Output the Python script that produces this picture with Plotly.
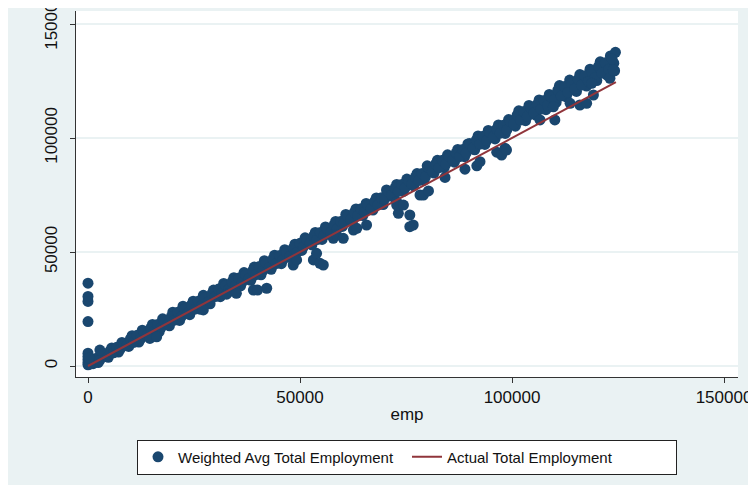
import plotly.graph_objects as go

# Main band of points (emp, weighted average total employment)
band_emp = [
    800, 1600, 2400, 3200, 4000, 4800, 5600, 6400, 7200, 8000, 8800, 9600,
    10400, 11200, 12000, 12800, 13600, 14400, 15200, 16000, 16800, 17600, 18400, 19200,
    20000, 20800, 21600, 22400, 23200, 24000, 24800, 25600, 26400, 27200, 28000, 28800, 29600,
    30400, 31200, 32000, 32800, 33600, 34400, 35200, 36000, 36800, 37600, 38400, 39200,
    40000, 40800, 41600, 42400, 43200, 44000, 44800, 45600, 46400, 47200, 48000, 48800, 49600,
    50400, 51200, 52000, 52800, 53600, 54400, 55200, 56000, 56800, 57600, 58400, 59200,
    60000, 60800, 61600, 62400, 63200, 64000, 64800, 65600, 66400, 67200, 68000, 68800, 69600,
    70400, 71200, 72000, 72800, 73600, 74400, 75200, 76000, 76800, 77600, 78400, 79200,
    80000, 80800, 81600, 82400, 83200, 84000, 84800, 85600, 86400, 87200, 88000, 88800, 89600,
    90400, 91200, 92000, 92800, 93600, 94400, 95200, 96000, 96800, 97600, 98400, 99200,
    100000, 100800, 101600, 102400, 103200, 104000, 104800, 105600, 106400, 107200, 108000, 108800, 109600,
    110400, 111200, 112000, 112800, 113600, 114400, 115200, 116000, 116800, 117600, 118400, 119200,
    120000, 120800, 121600, 122400, 123200, 124000, 124400, 124200,
]
band_weighted = [
    3000, 2300, 1500, 5300, 4700, 3800, 7900, 7000, 6100, 10300, 9400, 8600,
    13300, 11900, 10500, 15700, 14300, 12900, 18200, 16800, 15100, 20700, 19100, 17600,
    23600, 21800, 20000, 26200, 24200, 22500, 28400, 26700, 24900, 31000, 29000, 27300, 33300,
    32100, 30400, 36200, 34500, 32800, 38700, 36900, 35200, 41000, 39300, 37600, 43400,
    41900, 40000, 46200, 44300, 42400, 48600, 46700, 44900, 51000, 49100, 47300, 53400, 51500,
    50700, 56200, 54600, 53100, 58600, 57000, 55500, 61000, 59400, 57900, 63400, 61800,
    61200, 66500, 65000, 63600, 68900, 67400, 66000, 71300, 69800, 68400, 73700, 72200, 70800,
    77200, 75700, 74200, 79600, 78100, 76600, 82000, 80500, 79000, 84400, 82900, 81400,
    87800, 86200, 84600, 90200, 88600, 87000, 92600, 91000, 89400, 95000, 93400, 91800, 97400,
    96600, 94800, 100900, 99000, 97200, 103300, 101400, 99600, 105700, 103800, 102000, 108100,
    107300, 105200, 111900, 109700, 107600, 114300, 112100, 110000, 116700, 114500, 112400, 119100, 116900,
    115600, 123000, 120500, 118000, 125400, 122900, 120400, 127800, 125300, 122800, 130200, 127700,
    125200, 133400, 130600, 127600, 136000, 132800, 137600, 129500,
]

# Further points filling the band between the rows above
fill_emp = [
    400, 1200, 2000, 2800, 3600, 4400, 5200, 6000, 6800, 7600, 8400, 9200,
    10000, 10800, 11600, 12400, 13200, 14000, 14800, 15600, 16400, 17200, 18000, 18800, 19600,
    20400, 21200, 22000, 22800, 23600, 24400, 25200, 26000, 26800, 27600, 28400, 29200,
    30000, 30800, 31600, 32400, 33200, 34000, 34800, 35600, 36400, 37200, 38000, 38800, 39600,
    40400, 41200, 42000, 42800, 43600, 44400, 45200, 46000, 46800, 47600, 48400, 49200,
    50000, 50800, 51600, 52400, 53200, 54000, 54800, 55600, 56400, 57200, 58000, 58800, 59600,
    60400, 61200, 62000, 62800, 63600, 64400, 65200, 66000, 66800, 67600, 68400, 69200,
    70000, 70800, 71600, 72400, 73200, 74000, 74800, 75600, 76400, 77200, 78000, 78800, 79600,
    80400, 81200, 82000, 82800, 83600, 84400, 85200, 86000, 86800, 87600, 88400, 89200,
    90000, 90800, 91600, 92400, 93200, 94000, 94800, 95600, 96400, 97200, 98000, 98800, 99600,
    100400, 101200, 102000, 102800, 103600, 104400, 105200, 106000, 106800, 107600, 108400, 109200,
    110000, 110800, 111600, 112400, 113200, 114000, 114800, 115600, 116400, 117200, 118000, 118800, 119600,
    120400, 121200, 122000, 122800, 123600,
]
fill_weighted = [
    1800, 1000, 3400, 2600, 5000, 4200, 6600, 5800, 8200, 7400, 9800, 9000,
    11850, 10350, 13450, 11950, 15050, 13550, 16650, 15150, 18250, 16750, 19850, 18350, 21450,
    20100, 23550, 21700, 25150, 23300, 26750, 24900, 28350, 26500, 29950, 28100, 31550,
    30450, 33750, 32050, 35350, 33650, 36950, 35250, 38550, 36850, 40150, 38450, 41750, 40050,
    43650, 41750, 45250, 43350, 46850, 44950, 48450, 46550, 50050, 48150, 51650, 49750,
    53800, 52250, 55400, 53850, 57000, 55450, 58600, 57050, 60200, 58650, 61800, 60250, 63400,
    62700, 65750, 64300, 67350, 65900, 68950, 67500, 70550, 69100, 72150, 70700, 73750,
    73350, 76450, 74950, 78050, 76550, 79650, 78150, 81250, 79750, 82850, 81350, 84450, 82950,
    87000, 85400, 88600, 87000, 90200, 88600, 91800, 90200, 93400, 91800, 95000, 93400,
    97550, 95700, 99150, 97300, 100750, 98900, 102350, 100500, 103950, 102100, 105550, 103700, 107150,
    106250, 110000, 107850, 111600, 109450, 113200, 111050, 114800, 112650, 116400, 114250, 118000,
    116850, 120950, 118450, 122550, 120050, 124150, 121650, 125750, 123250, 127350, 124850, 128950, 126450,
    131400, 128500, 133000, 130100, 134600,
]

# Points near zero and points lying below the main band
other_emp = [
    0, 0, 0, 0, 0, 400, 300, 2800, 0, 0, 0, 0,
    14600, 16200, 27200, 32700, 35000, 39000, 40000, 42150, 48400, 49200,
    53150, 53900, 54700, 55500, 57850, 58600, 60200, 62600, 63400, 65700,
    72800, 73200, 72800, 74400, 75900, 76700, 75900, 78300, 79100, 80300,
    84200, 88900, 91700, 92450, 96400, 97550, 98350, 98700, 106600, 109750,
    110100, 113700, 116000, 117600, 118800, 119200, 123100, 123900,
]
other_weighted = [
    500, 1500, 2800, 4200, 5600, 800, 3500, 7000, 19500, 28300, 30500, 36300,
    12100, 12800, 24600, 31500, 31900, 33300, 33300, 34100, 44300, 46500,
    46500, 49400, 45050, 44300, 56000, 57450, 56000, 59650, 60400, 61840,
    72060, 66970, 70600, 70600, 66230, 61840, 61100, 75000, 75000, 76800,
    82700, 86300, 87800, 89600, 93800, 92540, 95500, 94740, 107900, 113700,
    107900, 115200, 114470, 115200, 124000, 118860, 126200, 129800,
]

# Actual total employment reference line
line_emp = [0, 124500]
line_actual = [0, 124500]

x_ticks = [0, 50000, 100000, 150000]
y_ticks = [0, 50000, 100000, 150000]

FONT = "Liberation Sans, Arial, sans-serif"
NAVY = "#1a476f"
MAROON = "#90353b"
BG = "#eaf2f3"

fig = go.Figure()
fig.add_trace(go.Scatter(
    x=band_emp + fill_emp + other_emp,
    y=band_weighted + fill_weighted + other_weighted,
    mode="markers", name="Weighted Avg Total Employment",
    marker=dict(color=NAVY, size=11, line=dict(width=0)),
))
fig.add_trace(go.Scatter(
    x=line_emp, y=line_actual, mode="lines", name="Actual Total Employment",
    line=dict(color=MAROON, width=2),
))

fig.update_layout(
    width=748, height=477,
    margin=dict(l=68, r=18, t=3, b=108, autoexpand=False),
    paper_bgcolor=BG, plot_bgcolor="white",
    font=dict(family=FONT, color="#111", size=17),
    showlegend=True,
    legend=dict(
        orientation="h", x=0.5, xanchor="center", y=-0.171, yanchor="top",
        bgcolor="white", bordercolor="#222", borderwidth=1,
        font=dict(family=FONT, size=15, color="#111"),
        entrywidth=224, entrywidthmode="pixels",
    ),
    xaxis=dict(
        range=[-2830, 153300], tickvals=x_ticks, ticktext=[str(v) for v in x_ticks],
        showgrid=False, zeroline=False, showline=True, linecolor="#333", linewidth=1,
        ticks="outside", ticklen=5, tickcolor="#333", ticklabeloverflow="allow",
        automargin=False,
        title=dict(text="emp", standoff=1, font=dict(size=17)),
    ),
    yaxis=dict(
        range=[-4825, 155700], tickvals=y_ticks, ticktext=[str(v) for v in y_ticks],
        tickangle=-90, showgrid=True, gridcolor=BG, gridwidth=1.5,
        zeroline=False, showline=True, linecolor="#333", linewidth=1,
        ticks="outside", ticklen=5, tickcolor="#333", ticklabeloverflow="allow",
        ticklabelstandoff=6, automargin=False,
    ),
)

fig.write_html("out.html")
